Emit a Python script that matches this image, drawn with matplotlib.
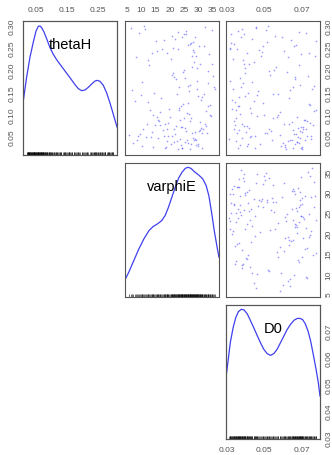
import matplotlib.pyplot as plt
import numpy as np

plt.rcParams['font.family'] = ['Liberation Sans', 'DejaVu Sans']

names = ['thetaH', 'varphiE', 'D0']

thetaH = [0.034, 0.212, 0.067, 0.145, 0.052, 0.281, 0.098, 0.023, 0.176, 0.243,
          0.071, 0.118, 0.296, 0.045, 0.189, 0.061, 0.257, 0.132, 0.029, 0.088,
          0.163, 0.039, 0.232, 0.075, 0.108, 0.271, 0.056, 0.201, 0.141, 0.027,
          0.249, 0.083, 0.048, 0.167, 0.292, 0.064, 0.124, 0.036, 0.218, 0.093,
          0.058, 0.265, 0.152, 0.021, 0.079, 0.237, 0.113, 0.043, 0.184, 0.069,
          0.285, 0.031, 0.136, 0.254, 0.091, 0.049, 0.207, 0.073, 0.158, 0.026,
          0.103, 0.226, 0.062, 0.299, 0.041, 0.171, 0.086, 0.245, 0.119, 0.054,
          0.033, 0.193, 0.077, 0.262, 0.147, 0.066, 0.024, 0.229, 0.101, 0.287,
          0.057, 0.128, 0.038, 0.215, 0.081, 0.274, 0.046, 0.161, 0.096, 0.251,
          0.022, 0.068, 0.139, 0.197, 0.052, 0.233, 0.109, 0.035, 0.278, 0.074,
          0.155, 0.044, 0.241, 0.087, 0.028, 0.179, 0.063, 0.294, 0.121, 0.051,
          0.259, 0.037, 0.099, 0.205, 0.072, 0.143, 0.025, 0.268, 0.059, 0.186,
          0.115, 0.047, 0.247, 0.079, 0.032, 0.165, 0.223, 0.065, 0.283, 0.094,
          0.042, 0.131, 0.274, 0.055, 0.199, 0.084, 0.238, 0.030, 0.149, 0.070,
          0.289, 0.106, 0.061, 0.173, 0.039, 0.255, 0.126, 0.050, 0.214, 0.078,
          0.024, 0.240, 0.092, 0.157, 0.066, 0.297, 0.043, 0.182, 0.111, 0.263]

varphiE = [27.3, 12.8, 31.6, 22.4, 8.9, 25.7, 34.1, 18.2, 29.5, 15.6,
           24.1, 33.2, 6.4, 28.8, 20.7, 13.9, 26.2, 30.9, 10.3, 23.5,
           35.4, 19.1, 27.9, 16.7, 32.5, 21.8, 9.6, 25.1, 29.9, 14.2,
           22.9, 30.4, 11.7, 27.0, 34.8, 17.5, 24.6, 7.2, 28.3, 20.1,
           31.2, 15.1, 26.6, 23.0, 12.1, 33.7, 19.8, 28.6, 21.4, 25.4,
           9.1, 29.2, 17.0, 32.0, 24.9, 13.4, 27.6, 22.1, 35.9, 18.7,
           26.0, 20.4, 30.2, 11.0, 25.9, 33.5, 16.3, 28.1, 23.8, 5.8,
           29.7, 21.1, 14.7, 27.4, 31.9, 18.9, 24.3, 8.3, 26.8, 22.7,
           33.0, 12.5, 25.3, 30.6, 19.5, 28.9, 15.9, 23.2, 34.4, 21.0,
           27.1, 10.7, 31.3, 24.7, 17.8, 29.0, 13.1, 26.4, 20.9, 32.8,
           6.9, 23.6, 28.4, 16.0, 30.0, 22.2, 25.6, 11.4, 33.9, 19.3,
           26.9, 21.6, 14.0, 29.4, 24.0, 9.9, 31.4, 18.0, 27.7, 35.1,
           23.3, 28.0, 17.2, 32.3, 20.3, 26.5, 12.3, 30.7, 25.0, 15.4,
           29.1, 7.7, 24.4, 21.9, 33.4, 27.2, 19.0, 23.9, 14.5, 31.0,
           25.8, 16.6, 28.7, 10.1, 22.6, 30.3, 26.3, 20.6, 34.6, 18.4,
           24.2, 13.6, 27.5, 29.6, 21.3, 32.2, 8.6, 25.2, 23.1, 28.2]

D0 = [0.0412, 0.0684, 0.0337, 0.0571, 0.0726, 0.0389, 0.0498, 0.0651, 0.0315, 0.0603,
      0.0695, 0.0362, 0.0457, 0.0748, 0.0531, 0.0402, 0.0669, 0.0329, 0.0588, 0.0712,
      0.0377, 0.0624, 0.0483, 0.0341, 0.0763, 0.0436, 0.0657, 0.0552, 0.0394, 0.0703,
      0.0318, 0.0645, 0.0421, 0.0689, 0.0509, 0.0367, 0.0736, 0.0597, 0.0445, 0.0672,
      0.0354, 0.0776, 0.0468, 0.0615, 0.0383, 0.0698, 0.0326, 0.0541, 0.0661, 0.0419,
      0.0721, 0.0372, 0.0634, 0.0491, 0.0348, 0.0679, 0.0563, 0.0407, 0.0753, 0.0612,
      0.0431, 0.0333, 0.0692, 0.0519, 0.0647, 0.0386, 0.0729, 0.0472, 0.0358, 0.0581,
      0.0666, 0.0396, 0.0758, 0.0322, 0.0544, 0.0705, 0.0449, 0.0628, 0.0371, 0.0687,
      0.0505, 0.0343, 0.0673, 0.0416, 0.0741, 0.0592, 0.0381, 0.0655, 0.0463, 0.0319,
      0.0699, 0.0527, 0.0365, 0.0619, 0.0428, 0.0771, 0.0349, 0.0683, 0.0558, 0.0392,
      0.0639, 0.0313, 0.0486, 0.0715, 0.0405, 0.0662, 0.0536, 0.0378, 0.0744, 0.0451,
      0.0336, 0.0676, 0.0575, 0.0399, 0.0708, 0.0461, 0.0361, 0.0641, 0.0512, 0.0733,
      0.0425, 0.0691, 0.0352, 0.0606, 0.0477, 0.0766, 0.0388, 0.0653, 0.0324, 0.0568,
      0.0718, 0.0443, 0.0375, 0.0667, 0.0524, 0.0339, 0.0739, 0.0608, 0.0414, 0.0681,
      0.0357, 0.0584, 0.0702, 0.0434, 0.0346, 0.0659, 0.0495, 0.0751, 0.0391, 0.0629,
      0.0693, 0.0408, 0.0547, 0.0331, 0.0724, 0.0455, 0.0636, 0.0369, 0.0778, 0.0516]

# density curves (height as fraction of the panel)
dens_thetaH_x = [0.0081, 0.0146, 0.0199, 0.0307, 0.0414, 0.0500, 0.0576, 0.0629, 0.0683, 0.0758,
                 0.0844, 0.0952, 0.1059, 0.1167, 0.1274, 0.1436, 0.1597, 0.1758, 0.1866, 0.1973,
                 0.2081, 0.2188, 0.2296, 0.2403, 0.2479, 0.2565, 0.2672, 0.2780, 0.2887, 0.2995,
                 0.3113]
dens_thetaH_y = [0.388, 0.495, 0.582, 0.731, 0.843, 0.925, 0.960, 0.963, 0.950, 0.918,
                 0.868, 0.801, 0.751, 0.711, 0.677, 0.627, 0.577, 0.525, 0.495, 0.480,
                 0.485, 0.505, 0.530, 0.552, 0.557, 0.550, 0.520, 0.463, 0.388, 0.303,
                 0.209]
dens_varphiE_x = [4.29, 5.59, 7.36, 9.12, 10.89, 12.66, 14.08, 15.61, 17.14, 18.32,
                  19.50, 20.68, 21.86, 23.04, 24.22, 25.40, 26.34, 27.40, 28.58, 30.12,
                  31.53, 32.71, 33.65, 34.60, 35.54, 36.48, 37.20]
dens_varphiE_y = [0.129, 0.184, 0.271, 0.358, 0.433, 0.495, 0.525, 0.545, 0.570, 0.607,
                  0.669, 0.744, 0.818, 0.886, 0.930, 0.960, 0.968, 0.960, 0.935, 0.910,
                  0.881, 0.831, 0.756, 0.632, 0.495, 0.378, 0.296]
dens_D0_x = [0.0295, 0.0306, 0.0318, 0.0333, 0.0347, 0.0361, 0.0377, 0.0391, 0.0408, 0.0425,
             0.0443, 0.0461, 0.0479, 0.0497, 0.0515, 0.0533, 0.0550, 0.0568, 0.0586, 0.0604,
             0.0622, 0.0640, 0.0658, 0.0676, 0.0690, 0.0704, 0.0718, 0.0733, 0.0747, 0.0761,
             0.0776, 0.0788, 0.0797]
dens_D0_y = [0.458, 0.582, 0.719, 0.831, 0.905, 0.950, 0.968, 0.963, 0.935, 0.886,
             0.831, 0.774, 0.719, 0.669, 0.637, 0.624, 0.637, 0.669, 0.719, 0.769,
             0.818, 0.856, 0.886, 0.900, 0.900, 0.891, 0.861, 0.806, 0.731, 0.632,
             0.520, 0.420, 0.321]

data = [thetaH, varphiE, D0]
dens = [(dens_thetaH_x, dens_thetaH_y), (dens_varphiE_x, dens_varphiE_y), (dens_D0_x, dens_D0_y)]
lims = [(0.0081, 0.3113), (4.29, 37.2), (0.0295, 0.0797)]
top_ticks = [[0.05, 0.15, 0.25], [5, 10, 15, 20, 25, 30, 35], [0.03, 0.05, 0.07]]
side_ticks = [[0.05, 0.10, 0.15, 0.20, 0.25, 0.30], [5, 10, 15, 20, 25, 30, 35],
              [0.03, 0.04, 0.05, 0.06, 0.07]]
fmts = ['%.2f', '%d', '%.2f']

W, H = 332, 456
lefts = [23, 125, 226]
tops = [22, 164, 306]
pw, ph = 94, 134
tcol = '#555555'
fs = 6

fig = plt.figure(figsize=(W/100, H/100), dpi=100)


def style(ax):
    for s in ax.spines.values():
        s.set_color('#555555')
        s.set_linewidth(0.8)
    ax.set_xticks([])
    ax.set_yticks([])
    ax.tick_params(length=0, labelsize=fs, labelcolor=tcol, pad=6)


def side_labels(ax, k, side):
    ax.set_yticks(side_ticks[k])
    ax.set_yticklabels([fmts[k] % t for t in side_ticks[k]], rotation=90, va='center')
    if side == 'right':
        ax.yaxis.tick_right()
        pad = 4
    else:
        ax.yaxis.tick_left()
        pad = 5
    ax.tick_params(axis='y', length=0, labelsize=fs, labelcolor=tcol, pad=pad)


for i in range(3):
    for j in range(i, 3):
        rect = (lefts[j]/W, 1 - (tops[i]+ph)/H, pw/W, ph/H)
        ax = fig.add_axes(rect)
        style(ax)
        ax.set_xlim(lims[j])
        if i == j:
            ax.set_ylim(0, 1)
            ax.plot(dens[i][0], dens[i][1], color='#4040ee', lw=0.9)
            ax.vlines(data[i], 0, 0.025, color='black', lw=0.4)
            ax.text(0.5, 0.83, names[i], transform=ax.transAxes, ha='center',
                    va='center', fontsize=10.5)
            if i == 0:
                tw = ax.twinx()
                style(tw)
                tw.set_ylim(lims[0])
                side_labels(tw, 0, 'left')
            if i == 2:
                tw = ax.twinx()
                style(tw)
                tw.set_ylim(lims[2])
                side_labels(tw, 2, 'right')
                ax.set_xticks(top_ticks[2])
                ax.set_xticklabels([fmts[2] % t for t in top_ticks[2]])
                ax.tick_params(axis='x', length=0, labelsize=fs, labelcolor=tcol, pad=5)
        else:
            ax.set_ylim(lims[i])
            ax.plot(data[j], data[i], 'o', ms=1.2, mew=0, color='#4848ff', alpha=0.55)
            if j == 2:
                side_labels(ax, i, 'right')
        if i == 0:
            ax.xaxis.tick_top()
            ax.set_xticks(top_ticks[j])
            ax.set_xticklabels([fmts[j] % t for t in top_ticks[j]])
            ax.tick_params(axis='x', length=0, labelsize=fs, labelcolor=tcol, pad=6)

fig.savefig('out.png', dpi=100)
